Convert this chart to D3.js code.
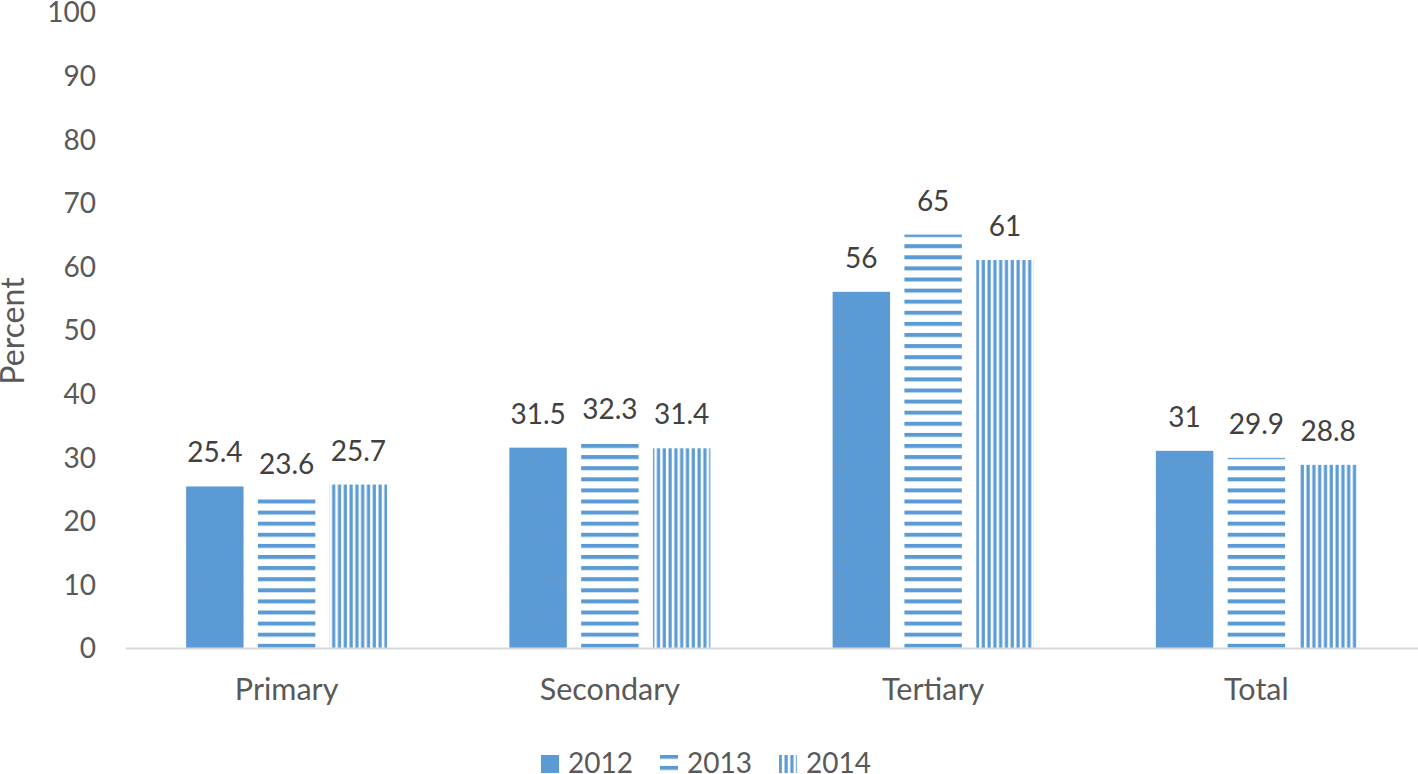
<!DOCTYPE html>
<html><head><meta charset="utf-8">
<script src="https://d3js.org/d3.v7.min.js"></script>
<style>body{margin:0;background:#fff;}svg{display:block;}</style>
</head><body>
<script>
const categories = ["Primary","Secondary","Tertiary","Total"];
const years = ["2012","2013","2014"];
const values2012 = [25.4,31.5,56,31];
const values2013 = [23.6,32.3,65,29.9];
const values2014 = [25.7,31.4,61,28.8];
const labels2012 = ["25.4","31.5","56","31"];
const labels2013 = ["23.6","32.3","65","29.9"];
const labels2014 = ["25.7","31.4","61","28.8"];
const yTicks = [0,10,20,30,40,50,60,70,80,90,100];

const W=1418,H=774;
const font="Lato, 'Open Sans', sans-serif";
const blue="#5B9BD5";
const svg=d3.select("body").append("svg").attr("width",W).attr("height",H);
const defs=svg.append("defs");
const ph=defs.append("pattern").attr("id","hstripe").attr("patternUnits","userSpaceOnUse").attr("width",8).attr("height",11.1).attr("y",0);
ph.append("rect").attr("x",0).attr("y",0).attr("width",8).attr("height",4).attr("fill",blue);
const pv=defs.append("pattern").attr("id","vstripe").attr("patternUnits","userSpaceOnUse").attr("width",5.8).attr("height",8);
pv.append("rect").attr("x",1.5).attr("y",0).attr("width",3.2).attr("height",8).attr("fill",blue);
// faint dotted texture for 2012 bars
const pw=defs.append("pattern").attr("id","wave").attr("patternUnits","userSpaceOnUse").attr("width",60).attr("height",38);
pw.append("rect").attr("width",60).attr("height",38).attr("fill",blue);
pw.append("path").attr("d","M0,30 C15,28 20,18 35,16 S55,14 60,12").attr("fill","none")
  .attr("stroke","#9a7e62").attr("stroke-width",1).attr("stroke-dasharray","1,5").attr("opacity",0.55);
pw.append("path").attr("d","M0,8 C12,10 25,4 40,6 S55,2 60,4").attr("fill","none")
  .attr("stroke","#9a7e62").attr("stroke-width",1).attr("stroke-dasharray","1,5").attr("opacity",0.4);

const x=d3.scaleBand().domain(categories).range([125,1418]);
const xs=d3.scaleBand().domain(years).range([0,201]).paddingInner(0.2);
const y=d3.scaleLinear().domain([0,100]).range([648,12]);

// y axis labels
const ya=svg.append("g").attr("transform","translate(96,0)").call(d3.axisLeft(y).tickValues(yTicks).tickSize(0).tickPadding(0));
ya.select(".domain").remove();
ya.selectAll("text").attr("font-family",font).attr("font-size",28).attr("fill","#595959").attr("dy","0.35em");

svg.append("text").attr("transform","translate(24,331) rotate(-90)").attr("text-anchor","middle")
 .attr("font-family",font).attr("font-size",32).attr("fill","#595959").text("Percent");

const series=[{k:"2012",v:values2012,l:labels2012,fill:"url(#wave)",lfill:blue},{k:"2013",v:values2013,l:labels2013,fill:"url(#hstripe)",lfill:"url(#hstripe)"},{k:"2014",v:values2014,l:labels2014,fill:"url(#vstripe)",lfill:"url(#vstripe)"}];
series.forEach(s=>{
  const g=svg.append("g");
  categories.forEach((c,i)=>{
    const x0=x(c)+(x.bandwidth()-201)/2+xs(s.k);
    g.append("rect").attr("x",x0).attr("y",y(s.v[i])).attr("width",xs.bandwidth()).attr("height",y(0)-y(s.v[i])).attr("fill",s.fill);
    g.append("text").attr("x",x0+xs.bandwidth()/2).attr("y",y(s.v[i])-24).attr("text-anchor","middle")
     .attr("font-family",font).attr("font-size",28).attr("fill","#404040").text(s.l[i]);
  });
});

// x axis
const xa=svg.append("g").attr("transform","translate(0,648)").call(d3.axisBottom(x).tickSize(0).tickPadding(30));
xa.select(".domain").attr("stroke","#d9d9d9").attr("stroke-width",2);
xa.selectAll("text").attr("font-family",font).attr("font-size",30.5).attr("fill","#595959");

// legend
const lg=svg.append("g");
const lx=[541,660,779];
series.forEach((s,i)=>{
  lg.append("rect").attr("x",lx[i]).attr("y",755).attr("width",18).attr("height",18).attr("fill",s.lfill);
  lg.append("text").attr("x",lx[i]+27).attr("y",773).attr("font-family",font).attr("font-size",28).attr("fill","#595959").text(s.k);
});
</script>
</body></html>
